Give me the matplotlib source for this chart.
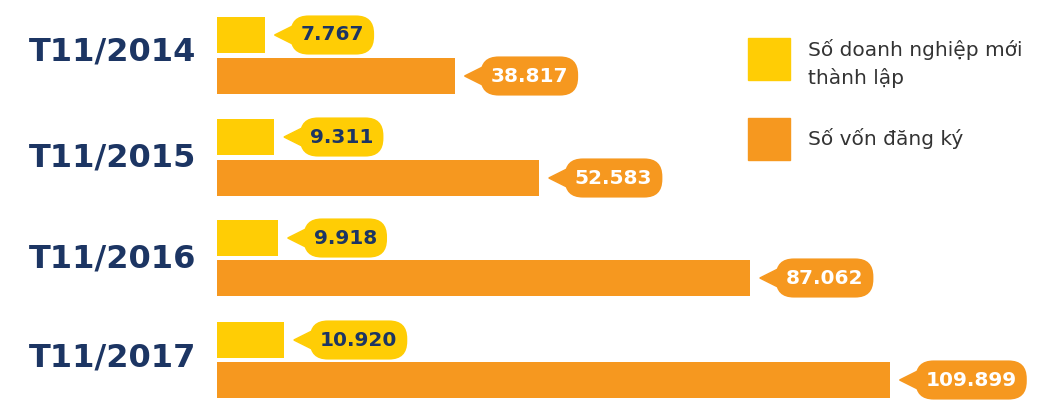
import matplotlib.pyplot as plt
from matplotlib.patches import Polygon

years = ["T11/2014", "T11/2015", "T11/2016", "T11/2017"]
new_firms = [7.767, 9.311, 9.918, 10.920]
capital = [38.817, 52.583, 87.062, 109.899]
new_labels = ["7.767", "9.311", "9.918", "10.920"]
cap_labels = ["38.817", "52.583", "87.062", "109.899"]

YELLOW = "#FFCD05"
ORANGE = "#F6981F"
NAVY = "#1C3563"
PX = 6.12  # pixels per unit on x

fig = plt.figure(figsize=(10.4, 4.11), dpi=100)
ax = fig.add_axes([0, 0, 1, 1])
ax.set_xlim(-217 / PX, (1040 - 217) / PX)
ax.set_ylim(411, 0)
ax.axis("off")

yel_y = [35, 137, 238, 340]
ora_y = [76, 178, 278, 380]
year_y = [52, 158, 259, 358]
h = 36


def bubble(x, y, label, fill, tc):
    tip = x + 10 / PX
    base = tip + 14 / PX
    ax.add_patch(Polygon([[tip, y], [base + 4 / PX, y - 9],
                          [base + 4 / PX, y + 9]],
                         closed=True, color=fill, zorder=3))
    ax.text(base + 12 / PX, y, label, ha="left", va="center",
            fontsize=14.5, fontweight="bold", color=tc, zorder=4,
            bbox=dict(boxstyle="round,pad=0.5,rounding_size=0.9",
                      fc=fill, ec="none"))


for i in range(len(years)):
    ax.barh(yel_y[i], new_firms[i], height=h, color=YELLOW)
    ax.barh(ora_y[i], capital[i], height=h, color=ORANGE)
    bubble(new_firms[i], yel_y[i], new_labels[i], YELLOW, NAVY)
    bubble(capital[i], ora_y[i], cap_labels[i], ORANGE, "white")
    ax.text(-217 / PX + 113 / PX, year_y[i], years[i], ha="center",
            va="center", fontsize=23, fontweight="bold", color=NAVY)

fig.patches.append(plt.Rectangle((748 / 1040, 1 - 80 / 411), 42 / 1040,
                                 42 / 411, transform=fig.transFigure,
                                 color=YELLOW))
fig.patches.append(plt.Rectangle((748 / 1040, 1 - 160 / 411), 42 / 1040,
                                 42 / 411, transform=fig.transFigure,
                                 color=ORANGE))
fig.text(808 / 1040, 1 - 64 / 411, "Số doanh nghiệp mới\nthành lập",
         fontsize=14.5, color="#333333", va="center", linespacing=1.5)
fig.text(808 / 1040, 1 - 138 / 411, "Số vốn đăng ký", fontsize=14.5,
         color="#333333", va="center")

fig.savefig("out.png", dpi=100)
